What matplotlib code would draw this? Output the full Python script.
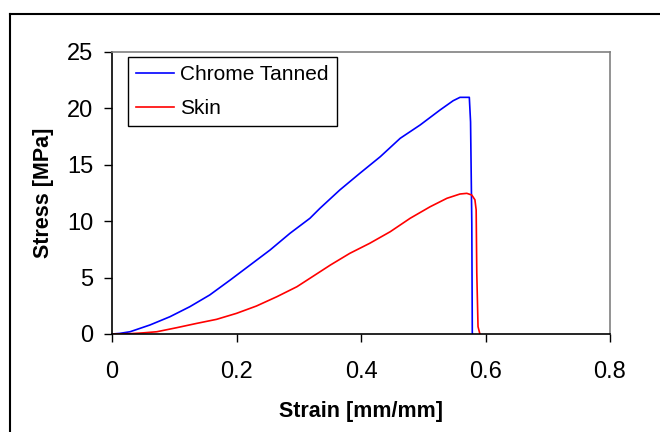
import numpy as np
import matplotlib.pyplot as plt
from matplotlib.lines import Line2D

plt.rcParams['font.family'] = ['Liberation Sans', 'DejaVu Sans']

# Chrome tanned leather, stress-strain
chrome_strain = [0.0, 0.012, 0.029, 0.061, 0.093, 0.125, 0.157, 0.190, 0.222, 0.254,
                 0.286, 0.318, 0.334, 0.366, 0.398, 0.431, 0.463, 0.495, 0.527,
                 0.548, 0.559, 0.574, 0.576, 0.578, 0.5788, 0.5792]
chrome_stress = [0.0, 0.05, 0.2, 0.8, 1.53, 2.42, 3.46, 4.79, 6.12, 7.45,
                 8.93, 10.26, 11.14, 12.77, 14.24, 15.72, 17.35, 18.53, 19.86,
                 20.68, 20.98, 20.98, 18.8, 9.8, 0.09, 0.0]

# Skin, stress-strain
skin_strain = [0.0, 0.03, 0.05, 0.072, 0.104, 0.136, 0.168, 0.200, 0.232, 0.265,
               0.297, 0.318, 0.351, 0.382, 0.414, 0.447, 0.479, 0.511, 0.538,
               0.559, 0.570, 0.578, 0.583, 0.585, 0.586, 0.588, 0.591]
skin_stress = [0.0, 0.03, 0.1, 0.2, 0.56, 0.94, 1.30, 1.83, 2.48, 3.31,
               4.19, 4.94, 6.12, 7.15, 8.04, 9.07, 10.26, 11.28, 12.03,
               12.41, 12.47, 12.32, 11.9, 11.0, 5.4, 0.65, 0.0]

fig = plt.figure(figsize=(6.6, 4.32), dpi=100)
ax = fig.add_axes([112 / 660, 1 - 334 / 432, 498 / 660, 282 / 432])

ax.plot(chrome_strain, chrome_stress, color='#0000ff', lw=1.2, label='Chrome Tanned')
ax.plot(skin_strain, skin_stress, color='#ff0000', lw=1.2, label='Skin')

ax.set_xlim(0, 0.8)
ax.set_ylim(0, 25)
ax.set_xticks([0, 0.2, 0.4, 0.6, 0.8])
ax.set_xticklabels(['0', '0.2', '0.4', '0.6', '0.8'])
ax.set_yticks([0, 5, 10, 15, 20, 25])
ax.tick_params(direction='out', length=5.5, width=1, labelsize=17)
ax.tick_params(axis='x', pad=14)
ax.tick_params(axis='y', pad=8)
ax.spines['top'].set_color('#808080')
ax.spines['right'].set_color('#808080')
for s in ax.spines.values():
    s.set_linewidth(1.2)

ax.set_xlabel('Strain [mm/mm]', fontsize=15.5, fontweight='bold', labelpad=13)
ax.set_ylabel('Stress [MPa]', fontsize=15.5, fontweight='bold', labelpad=9)

leg = ax.legend(loc='upper left', bbox_to_anchor=(0.032, 0.982), fontsize=15,
                fancybox=False, edgecolor='black', framealpha=1,
                handlelength=1.8, handletextpad=0.3, labelspacing=0.7,
                borderpad=0.4, borderaxespad=0)
leg.get_frame().set_linewidth(1.0)

# outer chart frame
fig.add_artist(Line2D([10 / 660, 10 / 660], [0, 1 - 14 / 432], color='black', lw=1.5))
fig.add_artist(Line2D([10 / 660, 1], [1 - 14 / 432, 1 - 14 / 432], color='black', lw=1.5))

fig.savefig('out.png', dpi=100)
